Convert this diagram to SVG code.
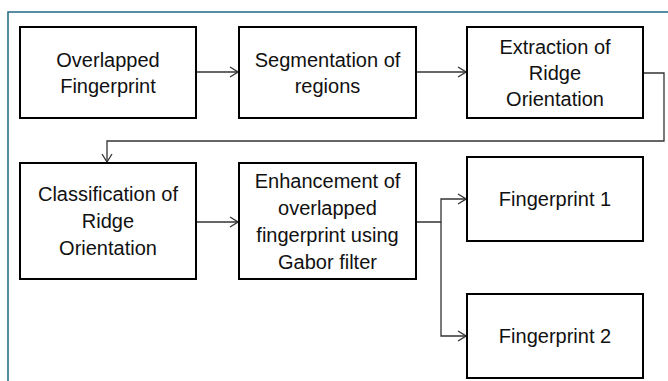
<svg xmlns="http://www.w3.org/2000/svg" width="668" height="381" viewBox="0 0 668 381">
<style>
.box{fill:#fff;stroke:#000;stroke-width:2}
.lbl{font-family:"Liberation Sans",Arial,sans-serif;font-size:20px;fill:#111;text-anchor:middle}
.con{fill:none;stroke:#333;stroke-width:1.3}
.frame{fill:none;stroke:#1e6a85;stroke-width:1.5}
</style>
<defs>
<marker id="arr" markerWidth="10" markerHeight="12" refX="9" refY="6" orient="auto" markerUnits="userSpaceOnUse">
<path d="M1,1 L9,6 L1,11" fill="none" stroke="#333" stroke-width="1.3"/>
</marker>
</defs>
<rect width="668" height="381" fill="#fff"/>
<path class="frame" d="M8,381 V12 H668"/>
<g id="connectors">
<path class="con" d="M196,72 H238" marker-end="url(#arr)"/>
<path class="con" d="M416,72 H466" marker-end="url(#arr)"/>
<path class="con" d="M643,73 H664 V141 H107 V162" marker-end="url(#arr)"/>
<path class="con" d="M196,222 H238" marker-end="url(#arr)"/>
<path class="con" d="M416,222 H441 V199 H466" marker-end="url(#arr)"/>
<path class="con" d="M441,222 V336 H466" marker-end="url(#arr)"/>
</g>
<g id="n1">
<rect class="box" x="20" y="27" width="176" height="91"/>
<text class="lbl" x="108" y="66.5">Overlapped</text>
<text class="lbl" x="108" y="92.5">Fingerprint</text>
</g>
<g id="n2">
<rect class="box" x="239" y="27" width="177" height="91"/>
<text class="lbl" x="327.5" y="66.5">Segmentation of</text>
<text class="lbl" x="327.5" y="92.5">regions</text>
</g>
<g id="n3">
<rect class="box" x="467" y="27" width="176" height="91"/>
<text class="lbl" x="555" y="53.5">Extraction of</text>
<text class="lbl" x="555" y="79.5">Ridge</text>
<text class="lbl" x="555" y="105.5">Orientation</text>
</g>
<g id="n4">
<rect class="box" x="20" y="163" width="176" height="116"/>
<text class="lbl" x="108" y="201">Classification of</text>
<text class="lbl" x="108" y="228">Ridge</text>
<text class="lbl" x="108" y="255">Orientation</text>
</g>
<g id="n5">
<rect class="box" x="239" y="163" width="177" height="116"/>
<text class="lbl" x="327.5" y="187.5">Enhancement of</text>
<text class="lbl" x="327.5" y="214.5">overlapped</text>
<text class="lbl" x="327.5" y="241.5">fingerprint using</text>
<text class="lbl" x="327.5" y="268.5">Gabor filter</text>
</g>
<g id="n6">
<rect class="box" x="467" y="157" width="176" height="84"/>
<text class="lbl" x="555" y="206">Fingerprint 1</text>
</g>
<g id="n7">
<rect class="box" x="467" y="294" width="176" height="84"/>
<text class="lbl" x="555" y="343">Fingerprint 2</text>
</g>
</svg>
